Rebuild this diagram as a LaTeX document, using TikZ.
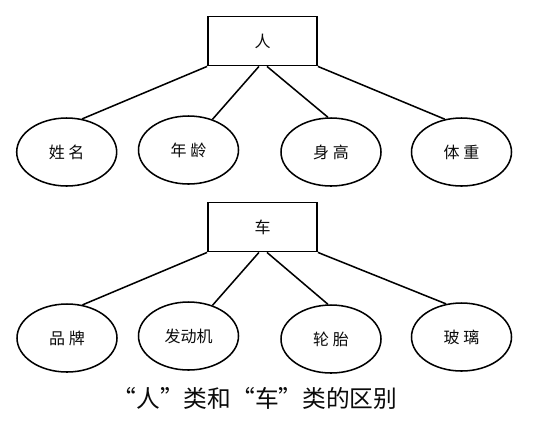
\documentclass[tikz,border=0pt]{standalone}
\usepackage{fontspec}
\setmainfont{Noto Sans CJK SC}
\usepackage{tikz}
\usetikzlibrary{shapes.geometric}
\definecolor{erLine}{RGB}{0,0,0}
\definecolor{erText}{RGB}{10,10,10}

\begin{document}
\begin{tikzpicture}[x=0.75pt,y=-0.75pt,
  entity/.style={draw=erLine, line width=1.15pt, rectangle, minimum width=82pt, minimum height=37pt, inner sep=0pt, text=erText, font=\fontsize{12}{13}\selectfont},
  attr/.style={draw=erLine, line width=1.15pt, ellipse, minimum width=75pt, minimum height=51pt, inner sep=0pt, text=erText, font=\fontsize{12}{13}\selectfont},
  link/.style={erLine, line width=1.15pt}]
\useasboundingbox (0,0) rectangle (542,430);
\fill[white] (0,0) rectangle (542,430);
% class "person"
\node[entity] (ren) at (262.5,41) {人};
\node[attr] (xingming) at (66.7,152) {姓 名};
\node[attr] (nianling) at (188.5,150) {年 龄};
\node[attr] (shengao) at (331,152) {身 高};
\node[attr] (tizhong) at (461.5,152) {体 重};
\draw[link] (ren.south west) -- (xingming.65);
\draw[link] (ren.-98) -- (nianling.52);
\draw[link] (ren.-80) -- (shengao.95);
\draw[link] (ren.south east) -- (tizhong.117);
% class "car"
\node[entity] (che) at (262.5,227) {车};
\node[attr] (pinpai) at (67,338) {品 牌};
\node[attr] (fadongji) at (188.5,336) {发动机};
\node[attr] (luntai) at (331,339) {轮 胎};
\node[attr] (boli) at (461.5,337) {玻 璃};
\draw[link] (che.south west) -- (pinpai.65);
\draw[link] (che.-98) -- (fadongji.52);
\draw[link] (che.-80) -- (luntai.95);
\draw[link] (che.south east) -- (boli.115);
% caption
\node[text=erText, font=\fontsize{17.8}{19}\selectfont] (caption) at (255,398) {“人”类和“车”类的区别};
\end{tikzpicture}
\end{document}
